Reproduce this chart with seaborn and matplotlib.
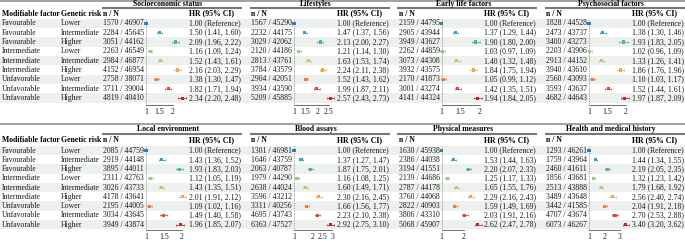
import numpy as np
import pandas as pd
import matplotlib
matplotlib.use("Agg")
import matplotlib.pyplot as plt
import seaborn as sns
from matplotlib.patches import Rectangle

# ---------------- data ----------------
factors = ["Favourable"] * 3 + ["Intermediate"] * 3 + ["Unfavorable"] * 3
genetic = ["Lower", "Intermediate", "Higher"] * 3

titles = ["Socioeconomic status", "Lifestyles", "Early life factors", "Psychosocial factors",
          "Local environment", "Blood assays", "Physical measures", "Health and medical history"]

ses_n = [1570, 2284, 3051, 2263, 2984, 4152, 2758, 3711, 4819]
ses_N = [46907, 45645, 44162, 46549, 46877, 46954, 38071, 39004, 40410]
ses_hr = [1.00, 1.50, 2.09, 1.16, 1.52, 2.16, 1.38, 1.82, 2.34]
ses_lo = [1.00, 1.41, 1.96, 1.09, 1.43, 2.03, 1.30, 1.71, 2.20]
ses_hi = [1.00, 1.60, 2.22, 1.24, 1.61, 2.29, 1.47, 1.94, 2.48]

life_n = [1567, 2232, 3029, 2120, 2813, 3784, 2904, 3934, 5209]
life_N = [45290, 44175, 42062, 44186, 43761, 43579, 42051, 43590, 45885]
life_hr = [1.00, 1.47, 2.13, 1.21, 1.63, 2.24, 1.52, 1.99, 2.57]
life_lo = [1.00, 1.37, 2.00, 1.14, 1.53, 2.11, 1.43, 1.87, 2.43]
life_hi = [1.00, 1.56, 2.27, 1.30, 1.74, 2.38, 1.62, 2.11, 2.73]

early_n = [2159, 2905, 3949, 2262, 3073, 3932, 2170, 3001, 4141]
early_N = [44795, 43944, 43627, 44859, 44308, 43575, 41873, 43274, 44324]
early_hr = [1.00, 1.37, 1.90, 1.03, 1.40, 1.84, 1.05, 1.42, 1.94]
early_lo = [1.00, 1.29, 1.80, 0.97, 1.32, 1.75, 0.99, 1.35, 1.84]
early_hi = [1.00, 1.44, 2.00, 1.09, 1.48, 1.94, 1.12, 1.51, 2.05]

psy_n = [1828, 2473, 3400, 2203, 2913, 3940, 2560, 3593, 4682]
psy_N = [44528, 43737, 43273, 43906, 44152, 43610, 43093, 43637, 44643]
psy_hr = [1.00, 1.38, 1.93, 1.02, 1.33, 1.86, 1.10, 1.52, 1.97]
psy_lo = [1.00, 1.30, 1.83, 0.96, 1.26, 1.76, 1.03, 1.44, 1.87]
psy_hi = [1.00, 1.46, 2.05, 1.09, 1.41, 1.96, 1.17, 1.61, 2.09]

env_n = [2085, 2919, 3895, 2311, 3026, 4178, 2195, 3034, 3949]
env_N = [44759, 44148, 44011, 42763, 43733, 43641, 44005, 43645, 43874]
env_hr = [1.00, 1.43, 1.93, 1.12, 1.43, 2.01, 1.09, 1.49, 1.96]
env_lo = [1.00, 1.36, 1.83, 1.05, 1.35, 1.91, 1.02, 1.40, 1.85]
env_hi = [1.00, 1.52, 2.03, 1.19, 1.51, 2.12, 1.16, 1.58, 2.07]

blood_n = [1301, 1646, 2063, 1979, 2638, 3596, 3311, 4695, 6363]
blood_N = [46981, 43759, 40787, 44290, 44024, 43212, 40256, 43743, 47527]
blood_hr = [1.00, 1.37, 1.87, 1.16, 1.60, 2.30, 1.66, 2.23, 2.92]
blood_lo = [1.00, 1.27, 1.75, 1.08, 1.49, 2.16, 1.56, 2.10, 2.75]
blood_hi = [1.00, 1.47, 2.01, 1.25, 1.71, 2.45, 1.77, 2.38, 3.10]

phys_n = [1630, 2386, 3194, 2139, 2787, 3760, 2822, 3806, 5068]
phys_N = [45938, 44038, 41551, 44686, 44178, 44068, 40903, 43310, 45907]
phys_hr = [1.00, 1.53, 2.20, 1.25, 1.65, 2.29, 1.59, 2.03, 2.62]
phys_lo = [1.00, 1.44, 2.07, 1.17, 1.55, 2.16, 1.49, 1.91, 2.47]
phys_hi = [1.00, 1.63, 2.33, 1.33, 1.76, 2.43, 1.69, 2.16, 2.78]

health_n = [1293, 1759, 2460, 1856, 2513, 3489, 3442, 4707, 6073]
health_N = [46261, 43964, 41611, 43681, 43888, 43648, 41585, 43674, 46267]
health_hr = [1.00, 1.44, 2.19, 1.32, 1.79, 2.56, 2.04, 2.70, 3.40]
health_lo = [1.00, 1.34, 2.05, 1.23, 1.68, 2.40, 1.91, 2.53, 3.20]
health_hi = [1.00, 1.55, 2.35, 1.42, 1.92, 2.74, 2.18, 2.88, 3.62]

ticks = [[1, 1.5, 2], [1, 1.5, 2, 2.5], [1, 1.5, 2], [1, 1.5, 2],
         [1, 1.5, 2], [1, 2, 2.5, 3], [1, 2], [1, 2, 3]]

panel_data = [
    (ses_n, ses_N, ses_hr, ses_lo, ses_hi),
    (life_n, life_N, life_hr, life_lo, life_hi),
    (early_n, early_N, early_hr, early_lo, early_hi),
    (psy_n, psy_N, psy_hr, psy_lo, psy_hi),
    (env_n, env_N, env_hr, env_lo, env_hi),
    (blood_n, blood_N, blood_hr, blood_lo, blood_hi),
    (phys_n, phys_N, phys_hr, phys_lo, phys_hi),
    (health_n, health_N, health_hr, health_lo, health_hi),
]

row_colors = ["#2f7fbf", "#3a9ec2", "#4fb498", "#8fcf7f", "#c9c07c",
              "#f3a652", "#ef7a48", "#e0443a", "#c8202f"]

# ---------------- style ----------------
sns.set_style("white")
plt.rcParams["font.family"] = ["Liberation Serif", "DejaVu Serif"]
FS = 5.6
W, H = 685, 240

fig = plt.figure(figsize=(W / 100, H / 100), dpi=100)
bg = fig.add_axes([0, 0, 1, 1])
bg.set_xlim(0, W)
bg.set_ylim(H, 0)
bg.axis("off")

def frect(x, y, w, h):
    return [x / W, 1 - (y + h) / H, w / W, h / H]

halves = [
    dict(line_y=0.8, title_y=4.3, under_y=8.0, head_y=13.6, row0=23.3, dy=9.35, spine_y=105.0),
    dict(line_y=124.3, title_y=129.3, under_y=134.0, head_y=140.4, row0=150.6, dy=9.25, spine_y=229.5),
]
group_starts = [102, 250, 397.5, 545]
GW = 140
shade = "#edf1ed"
txt = "#1a1a1a"

for hi_, hv in enumerate(halves):
    dy = hv["dy"]
    rows_y = [hv["row0"] + dy * i for i in range(9)]
    for i, yy in enumerate(rows_y):
        if i % 2 == 0:
            bg.add_patch(Rectangle((0, yy - dy / 2), W, dy, color=shade, lw=0, zorder=0))
    bg.plot([0, W], [hv["line_y"], hv["line_y"]], color="#9a9a9a", lw=1.3, solid_capstyle="butt")
    bg.text(2, hv["head_y"], "Modifiable factor", fontsize=FS, fontweight="bold", va="center", ha="left", color="black")
    bg.text(61, hv["head_y"], "Genetic risk", fontsize=FS, fontweight="bold", va="center", ha="left", color="black")
    for i, yy in enumerate(rows_y):
        bg.text(2, yy, factors[i], fontsize=FS, va="center", ha="left", color=txt)
        bg.text(61, yy, genetic[i], fontsize=FS, va="center", ha="left", color=txt)

    for g in range(4):
        p = hi_ * 4 + g
        n, N, hr, lo, hi = panel_data[p]
        s = group_starts[g]
        nx, hx = s + 1.5, s + 87
        bg.plot([s, s + GW], [hv["under_y"], hv["under_y"]], color="#777777", lw=1.5, solid_capstyle="butt")
        bg.text(s + 66, hv["title_y"], titles[p], fontsize=FS, fontweight="bold", va="center", ha="center", color="black")
        bg.text(nx, hv["head_y"], "n / N", fontsize=FS, fontweight="bold", va="center", ha="left", color="black")
        bg.text(hx, hv["head_y"], "HR (95% CI)", fontsize=FS, fontweight="bold", va="center", ha="left", color="black")
        for i, yy in enumerate(rows_y):
            bg.text(nx, yy, f"{n[i]} / {N[i]}", fontsize=FS, va="center", ha="left", color=txt)
            if i == 0:
                lab = f"{hr[i]:.2f} (Reference)"
            else:
                lab = f"{hr[i]:.2f} ({lo[i]:.2f}, {hi[i]:.2f})"
            bg.text(hx, yy, lab, fontsize=FS, va="center", ha="left", color=txt)

        left = s + 44
        right = s + 84
        top = hv["row0"] - dy / 2
        hpx = hv["spine_y"] - top
        ax = fig.add_axes(frect(left, top, right - left, hpx))
        ax.patch.set_alpha(0)
        df = pd.DataFrame({"hr": hr, "lo": lo, "hi": hi, "row": np.arange(9)})
        for i in range(1, 9):
            ax.errorbar(df.hr[i], df.row[i], xerr=[[df.hr[i] - df.lo[i]], [df.hi[i] - df.hr[i]]],
                        fmt="none", ecolor=row_colors[i], elinewidth=0.6, capsize=1.0,
                        capthick=0.5, clip_on=False, zorder=3)
        sns.scatterplot(data=df, x="hr", y="row", hue="row", palette=row_colors, marker="s",
                        s=5, linewidth=0, legend=False, ax=ax, clip_on=False, zorder=4)
        ax.axvline(1, color="#8a8a8a", lw=0.6, ls=(0, (1, 1)), zorder=1)
        ax.set_xlim(1, max(hi))
        ax.set_ylim(-0.5 + hpx / dy, -0.5)
        ax.set_xticks(ticks[p])
        ax.set_xticklabels([f"{t:g}" for t in ticks[p]])
        ax.set_yticks([])
        ax.set_xlabel("")
        ax.set_ylabel("")
        for sp in ["left", "top", "right"]:
            ax.spines[sp].set_visible(False)
        ax.spines["bottom"].set_color("#555555")
        ax.spines["bottom"].set_linewidth(0.6)
        ax.spines["bottom"].set_bounds(1, ticks[p][-1])
        ax.tick_params(axis="x", length=2, width=0.5, color="#555555", labelsize=FS, pad=0.3,
                       colors=txt)
        ax.grid(False)

fig.savefig("out.png", dpi=100)
